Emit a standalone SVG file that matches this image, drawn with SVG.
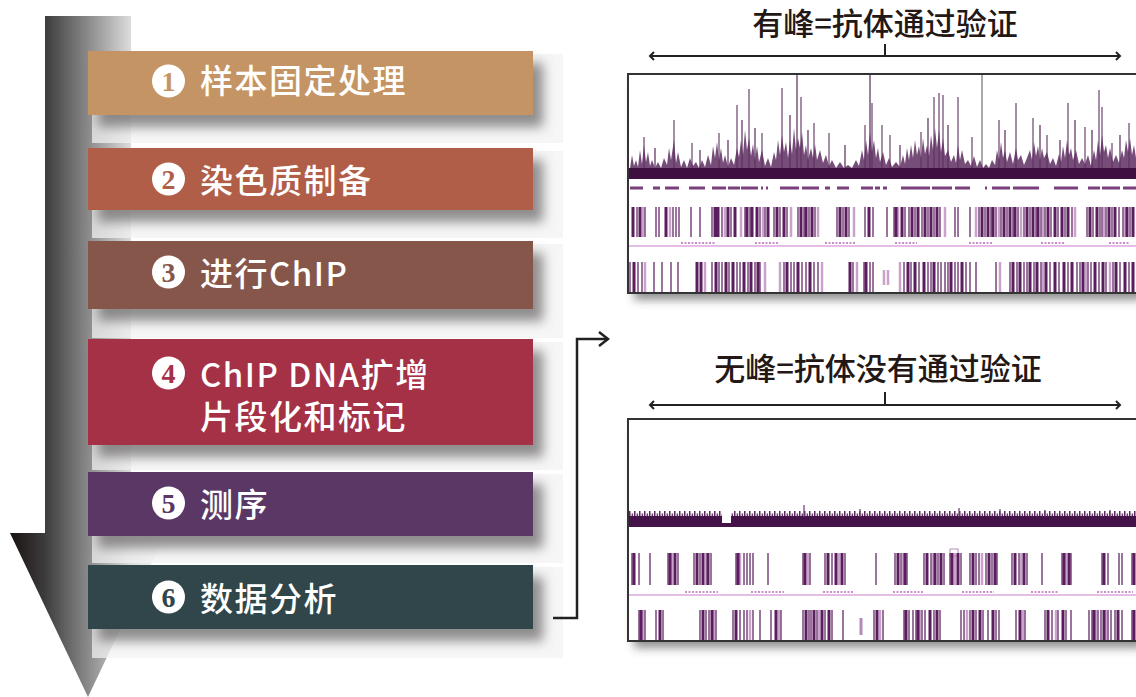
<svg xmlns="http://www.w3.org/2000/svg" width="1136" height="697" viewBox="0 0 1136 697">
<style>
.step{font-family:"Noto Sans CJK SC","Noto Sans",sans-serif;font-size:33px;font-weight:500;fill:#ffffff;letter-spacing:1.5px}
.num{font-family:"Liberation Serif",serif;font-size:28px;font-weight:bold;text-anchor:middle}
.title{font-family:"Noto Sans CJK SC","Noto Sans",sans-serif;font-size:31px;font-weight:500;fill:#231815;text-anchor:middle}
.panel{fill:#f3f3f3;fill-opacity:0.72}
.shadow{fill:#6e6868;fill-opacity:0.75;filter:url(#blur)}
.line{fill:none;stroke:#222;stroke-width:2}
.d{fill:none;stroke:#5a1d5e;stroke-width:3}
.m{fill:none;stroke:#6f3a72;stroke-width:1.4}
.l{fill:none;stroke:#c9a3cb;stroke-width:2.5}
.pink{fill:none;stroke:#dca8dc;stroke-width:1.5}
.lab{fill:none;stroke:#c98fc9;stroke-width:2;stroke-dasharray:2 1.5}
.frame{fill:none;stroke:#333;stroke-width:2}
</style>
<defs>
<linearGradient id="arrowGrad" gradientUnits="userSpaceOnUse" x1="10" y1="0" x2="166" y2="0">
<stop offset="0" stop-color="#1b1212"/>
<stop offset="0.22" stop-color="#3c3b3b"/>
<stop offset="0.5" stop-color="#8a8a8a"/>
<stop offset="0.78" stop-color="#dedede"/>
<stop offset="1" stop-color="#f7f7f7"/>
</linearGradient>
<filter id="blur" x="-10%" y="-30%" width="120%" height="160%"><feGaussianBlur stdDeviation="6"/></filter>
<filter id="blur2" x="-5%" y="-10%" width="110%" height="130%"><feGaussianBlur stdDeviation="5"/></filter>
<marker id="chev" viewBox="-6 -6 8 12" refX="0" refY="0" markerWidth="8" markerHeight="12" markerUnits="userSpaceOnUse" orient="auto-start-reverse">
<path d="M-4,-4 L0,0 L-4,4" fill="none" stroke="#222" stroke-width="2"/>
</marker>
<marker id="chevL" viewBox="-12 -9 14 18" refX="0" refY="0" markerWidth="14" markerHeight="18" markerUnits="userSpaceOnUse" orient="auto">
<path d="M-9,-7 L0,0 L-9,7" fill="none" stroke="#222" stroke-width="2.5"/>
</marker>
<pattern id="spk" width="5" height="6" patternUnits="userSpaceOnUse" x="629" y="511">
<rect x="0" y="0" width="1.5" height="6" fill="#5a2a5c"/>
<rect x="2.6" y="2.5" width="1.5" height="3.5" fill="#6a3a6c"/>
</pattern>
<clipPath id="clipTop"><rect x="629" y="75" width="507" height="217"/></clipPath>
<clipPath id="clipBot"><rect x="629" y="420" width="507" height="220"/></clipPath>
</defs>

<rect x="0" y="0" width="1136" height="697" fill="#ffffff"/>

<g id="flow-arrow">
<path d="M45,16 H131 V533 H166 L88,697 L10,533 H45 Z" fill="url(#arrowGrad)"/>
</g>

<g id="panels">
<rect class="panel" x="92" y="54" width="471" height="89"/>
<rect class="panel" x="92" y="151" width="471" height="87"/>
<rect class="panel" x="92" y="244" width="471" height="94"/>
<rect class="panel" x="92" y="342" width="471" height="128"/>
<rect class="panel" x="92" y="474" width="471" height="89"/>
<rect class="panel" x="92" y="567" width="471" height="91"/>
<rect class="shadow" x="98" y="63" width="445" height="64"/>
<rect class="shadow" x="98" y="160" width="445" height="62"/>
<rect class="shadow" x="98" y="253" width="445" height="68"/>
<rect class="shadow" x="98" y="351" width="445" height="106"/>
<rect class="shadow" x="98" y="484" width="445" height="64"/>
<rect class="shadow" x="98" y="577" width="445" height="64"/>
</g>

<g id="step1">
<rect x="88" y="51" width="445" height="64" fill="#c59464"/>
<circle cx="168.5" cy="81" r="16.5" fill="#ffffff"/>
<text class="num" x="168.5" y="90.5" fill="#c59464">1</text>
<text class="step" x="200" y="93">样本固定处理</text>
</g>
<g id="step2">
<rect x="88" y="148" width="445" height="62" fill="#b05e48"/>
<circle cx="168.5" cy="179" r="16.5" fill="#ffffff"/>
<text class="num" x="168.5" y="188.5" fill="#b05e48">2</text>
<text class="step" x="200" y="193">染色质制备</text>
</g>
<g id="step3">
<rect x="88" y="241" width="445" height="68" fill="#87564b"/>
<circle cx="168.5" cy="272" r="16.5" fill="#ffffff"/>
<text class="num" x="168.5" y="281.5" fill="#87564b">3</text>
<text class="step" x="200" y="286">进行ChIP</text>
</g>
<g id="step4">
<rect x="88" y="339" width="445" height="106" fill="#a53147"/>
<circle cx="168.5" cy="373" r="16.5" fill="#ffffff"/>
<text class="num" x="168.5" y="382.5" fill="#a53147">4</text>
<text class="step" x="200" y="387">ChIP DNA扩增<tspan x="200" y="429">片段化和标记</tspan></text>
</g>
<g id="step5">
<rect x="88" y="472" width="445" height="64" fill="#5b3765"/>
<circle cx="168.5" cy="503" r="16.5" fill="#ffffff"/>
<text class="num" x="168.5" y="512.5" fill="#5b3765">5</text>
<text class="step" x="200" y="517">测序</text>
</g>
<g id="step6">
<rect x="88" y="565" width="445" height="64" fill="#30464a"/>
<circle cx="168.5" cy="597" r="16.5" fill="#ffffff"/>
<text class="num" x="168.5" y="606.5" fill="#30464a">6</text>
<text class="step" x="200" y="611">数据分析</text>
</g>

<g id="connectors">
<path d="M553,618 H577 V339 H608" fill="none" stroke="#222" stroke-width="2.5" marker-end="url(#chevL)"/>
<path class="line" d="M650,56 H1120" marker-start="url(#chev)" marker-end="url(#chev)"/>
<path class="line" d="M885,44 V56"/>
<path class="line" d="M650,405 H1120" marker-start="url(#chev)" marker-end="url(#chev)"/>
<path class="line" d="M885,392 V405"/>
</g>

<g id="label-top">
<text class="title" x="885" y="35">有峰=抗体通过验证</text>
</g>
<g id="label-bottom">
<text class="title" x="878" y="380">无峰=抗体没有通过验证</text>
</g>

<g id="plot-top">
<rect x="634" y="82" width="510" height="218" fill="#4a4a4a" fill-opacity="0.6" filter="url(#blur2)"/>
<rect x="628" y="74" width="512" height="219" fill="#ffffff"/>
<g clip-path="url(#clipTop)">
<path d="M644,170V137M674,170V120M692,170V143M719,170V133M737,170V105M749,170V89M762,170V133M782,170V88M801,170V97M814,170V123M829,170V133M865,170V125M872,170V103M882,170V125M890,170V135M921,170V132M934,170V97M939,170V93M943,170V95M958,170V97M972,170V137M999,170V120M1016,170V103M1033,170V118M1047,170V135M1068,170V103M1085,170V127M1099,170V90M1102,170V107M1112,170V143M1129,170V123" fill="none" stroke="#8a6a8c" stroke-width="1.5"/>
<path d="M797,170V75M870,170V75" fill="none" stroke="#9a7e9c" stroke-width="2"/>
<path d="M982,170V75" fill="none" stroke="#555" stroke-width="1"/>
<path d="M655,170V148M700,170V150M728,170V140M742,170V120M755,170V128M790,170V115M808,170V130M845,170V145M900,170V145M928,170V118M948,170V125M1005,170V130M1040,170V125M1060,170V140M1075,170V120M1092,170V130M1120,170V135" fill="none" stroke="#5a2a5c" stroke-width="1.2"/>
<path d="M630,179 L630,168 L632,155 L634,166 L636,160 L638,167 L640,150 L642,164 L644,145 L646,162 L648,152 L650,166 L652,160 L655,168 L658,162 L661,168 L664,158 L667,165 L669,148 L671,160 L674,140 L676,163 L678,152 L681,167 L684,160 L687,168 L690,158 L693,166 L696,162 L699,168 L702,160 L705,167 L708,155 L711,165 L713,146 L715,158 L717,142 L719,160 L721,148 L723,163 L725,155 L728,167 L731,158 L734,165 L737,148 L739,157 L741,140 L743,155 L745,130 L747,150 L749,138 L751,156 L753,144 L755,160 L757,146 L759,162 L762,150 L765,166 L768,158 L771,167 L774,152 L776,160 L778,140 L780,155 L782,135 L784,152 L786,142 L788,158 L790,140 L792,154 L794,128 L796,150 L798,138 L800,148 L802,132 L804,155 L806,145 L808,160 L811,148 L813,158 L815,144 L817,160 L820,150 L823,163 L826,155 L829,166 L832,160 L836,168 L840,162 L844,168 L848,165 L852,168 L856,160 L859,166 L862,150 L864,160 L866,140 L868,155 L870,132 L872,152 L874,140 L876,158 L878,148 L880,162 L883,152 L886,165 L889,158 L892,167 L896,162 L900,167 L903,155 L905,164 L907,148 L909,160 L911,145 L913,158 L915,140 L917,155 L919,146 L921,158 L923,138 L925,154 L927,145 L929,156 L931,135 L933,150 L935,128 L937,148 L939,130 L941,152 L943,138 L945,156 L948,150 L951,162 L954,155 L956,163 L958,145 L960,160 L962,150 L965,164 L968,160 L971,166 L974,156 L977,167 L980,160 L983,168 L986,164 L989,168 L992,160 L995,165 L997,150 L999,160 L1001,142 L1003,158 L1005,150 L1007,162 L1010,152 L1013,164 L1016,148 L1018,160 L1021,155 L1024,165 L1027,158 L1030,150 L1032,160 L1034,142 L1036,156 L1038,146 L1040,160 L1042,148 L1044,158 L1047,152 L1050,164 L1053,158 L1056,166 L1059,154 L1061,162 L1063,146 L1065,158 L1067,140 L1069,155 L1071,148 L1073,160 L1076,150 L1079,164 L1082,158 L1085,164 L1088,155 L1091,166 L1094,150 L1096,160 L1098,140 L1100,155 L1102,135 L1104,152 L1106,145 L1108,158 L1110,148 L1113,162 L1116,155 L1119,163 L1122,150 L1124,158 L1126,140 L1128,152 L1130,138 L1132,155 L1134,145 L1136,158 L1136,179 Z" fill="#5e2e62" fill-opacity="0.85"/>
<rect x="629" y="168" width="507" height="11" fill="#3f0f42"/>
<path d="M630,188H643M653,188H660M665,188H679M689,188H705M712,188H726M728,188H740M741,188H758M761,188H763M766,188H768M780,188H799M802,188H819M825,188H830M837,188H849M861,188H873M875,188H880M883,188H887M901,188H930M932,188H952M955,188H970M985,188H987M992,188H1010M1013,188H1039M1054,188H1078M1088,188H1100M1102,188H1120M1123,188H1136" fill="none" stroke="#7b3f7e" stroke-width="3"/>
<path class="l" d="M643 207v30M670 207v30M725 207v30M741 207v30M763 207v30M791 207v30M818 207v30M854 207v30M898 207v30M945 207v30M976 207v30M999 207v30M1021 207v30M1043 207v30M1075 207v30M1104 207v30M1125 207v30"/>
<path class="m" d="M637 207v30M645 207v30M656 207v30M659 207v30M673 207v30M676 207v30M679 207v30M691 207v30M700 207v30M712 207v30M722 207v30M731 207v30M745 207v30M750 207v30M760 207v30M765 207v30M774 207v30M780 207v30M787 207v30M798 207v30M804 207v30M809 207v30M815 207v30M837 207v30M843 207v30M849 207v30M865 207v30M873 207v30M887 207v30M894 207v30M905 207v30M909 207v30M915 207v30M922 207v30M928 207v30M934 207v30M940 207v30M955 207v30M958 207v30M970 207v30M979 207v30M985 207v30M991 207v30M996 207v30M1001 207v30M1007 207v30M1013 207v30M1018 207v30M1024 207v30M1030 207v30M1036 207v30M1041 207v30M1045 207v30M1051 207v30M1058 207v30M1065 207v30M1072 207v30M1087 207v30M1093 207v30M1100 207v30M1102 207v30M1106 207v30M1112 207v30M1119 207v30M1123 207v30M1130 207v30"/>
<path class="d" d="M633 207v30M640 207v30M666 207v30M715 207v30M718 207v30M728 207v30M735 207v30M747 207v30M752 207v30M757 207v30M768 207v30M777 207v30M784 207v30M801 207v30M806 207v30M812 207v30M840 207v30M846 207v30M869 207v30M896 207v30M902 207v30M912 207v30M918 207v30M925 207v30M931 207v30M937 207v30M982 207v30M988 207v30M993 207v30M1004 207v30M1010 207v30M1015 207v30M1027 207v30M1033 207v30M1038 207v30M1048 207v30M1055 207v30M1062 207v30M1068 207v30M1090 207v30M1097 207v30M1109 207v30M1115 207v30M1127 207v30M1133 207v30"/>
<path class="pink" d="M629,246H1136"/>
<path class="lab" d="M681,243H715M755,243H779M825,243H856M895,243H917M969,243H993M1041,243H1065M1109,243H1130"/>
<path class="l" d="M645 262v31M705 262v31M765 262v31M780 262v31M822 262v31M857 262v31M884 270v15M888 270v15M900 262v31M1000 262v31M1043 262v31M1086 262v31M1110 262v31"/>
<path class="m" d="M630 262v31M638 262v31M642 262v31M654 262v31M662 262v31M671 262v31M678 262v31M712 262v31M719 262v31M722 262v31M729 262v31M737 262v31M740 262v31M748 262v31M755 262v31M760 262v31M784 262v31M791 262v31M794 262v31M802 262v31M806 262v31M814 262v31M818 262v31M853 262v31M864 262v31M870 262v31M873 262v31M904 262v31M911 262v31M919 262v31M928 262v31M931 262v31M938 262v31M941 262v31M945 262v31M948 262v31M955 262v31M958 262v31M966 262v31M970 262v31M976 262v31M996 262v31M1010 262v31M1017 262v31M1024 262v31M1027 262v31M1034 262v31M1041 262v31M1050 262v31M1059 262v31M1068 262v31M1077 262v31M1080 262v31M1088 262v31M1091 262v31M1099 262v31M1106 262v31M1113 262v31M1120 262v31M1129 262v31"/>
<path class="d" d="M634 262v31M697 262v31M701 262v31M716 262v31M726 262v31M733 262v31M744 262v31M751 262v31M758 262v31M787 262v31M798 262v31M810 262v31M850 262v31M866 262v31M908 262v31M915 262v31M924 262v31M934 262v31M951 262v31M962 262v31M1013 262v31M1020 262v31M1030 262v31M1037 262v31M1046 262v31M1055 262v31M1064 262v31M1072 262v31M1083 262v31M1095 262v31M1103 262v31M1116 262v31M1125 262v31M1133 262v31"/>
</g>
<rect class="frame" x="628" y="74" width="512" height="219"/>
</g>

<g id="plot-bottom">
<rect x="634" y="427" width="510" height="221" fill="#4a4a4a" fill-opacity="0.6" filter="url(#blur2)"/>
<rect x="628" y="419" width="512" height="222" fill="#ffffff"/>
<g clip-path="url(#clipBot)">
<rect x="629" y="511" width="507" height="6" fill="url(#spk)"/>
<rect x="629" y="516" width="507" height="11" fill="#45124a"/>
<rect x="722" y="510" width="9" height="13" fill="#ffffff"/>
<path d="M804,517V505M959,517V508M1000,517V509M1045,517V510M860,517V509M1110,517V510" fill="none" stroke="#6a3a6c" stroke-width="1.2"/>
<path class="l" d="M672 553v32M706 553v32M740 553v32M808 553v32M839 553v32M903 553v32M933 553v32M955 553v32M982 553v32M1021 553v32M1066 553v32"/>
<rect x="950" y="549" width="8" height="7" fill="none" stroke="#b58ab8" stroke-width="1"/>
<path class="m" d="M632 553v32M639 553v32M650 553v32M668 553v32M678 553v32M694 553v32M700 553v32M711 553v32M736 553v32M744 553v32M747 553v32M750 553v32M753 553v32M768 553v32M803 553v32M810 553v32M825 553v32M832 553v32M845 553v32M876 553v32M895 553v32M901 553v32M907 553v32M924 553v32M931 553v32M938 553v32M944 553v32M950 553v32M961 553v32M970 553v32M976 553v32M979 553v32M986 553v32M992 553v32M997 553v32M1012 553v32M1019 553v32M1027 553v32M1042 553v32M1062 553v32M1071 553v32M1102 553v32M1108 553v32M1119 553v32M1122 553v32M1132 553v32"/>
<path class="d" d="M634 553v32M670 553v32M675 553v32M697 553v32M703 553v32M708 553v32M738 553v32M805 553v32M828 553v32M836 553v32M842 553v32M898 553v32M905 553v32M927 553v32M935 553v32M941 553v32M952 553v32M958 553v32M973 553v32M989 553v32M995 553v32M1015 553v32M1024 553v32M1064 553v32M1069 553v32M1104 553v32M1134 553v32"/>
<path class="pink" d="M629,595H1136"/>
<path class="lab" d="M685,592H718M751,592H784M823,592H854M893,592H924M962,592H994M1031,592H1058M1097,592H1133"/>
<path class="l" d="M643 610v31M714 610v31M750 610v31M779 610v31M819 610v31M880 610v31M920 610v31M967 610v31M1023 610v31M1056 610v31M1096 610v31M1106 610v31"/>
<path d="M861,618V635" fill="none" stroke="#b58ab8" stroke-width="3"/>
<path class="m" d="M639 610v31M645 610v31M656 610v31M663 610v31M700 610v31M706 610v31M709 610v31M716 610v31M733 610v31M740 610v31M744 610v31M747 610v31M753 610v31M760 610v31M771 610v31M781 610v31M803 610v31M809 610v31M811 610v31M817 610v31M825 610v31M832 610v31M843 610v31M874 610v31M883 610v31M904 610v31M909 610v31M913 610v31M916 610v31M922 610v31M925 610v31M934 610v31M940 610v31M961 610v31M964 610v31M970 610v31M976 610v31M983 610v31M988 610v31M996 610v31M999 610v31M1016 610v31M1025 610v31M1045 610v31M1052 610v31M1058 610v31M1066 610v31M1071 610v31M1089 610v31M1092 610v31M1098 610v31M1101 610v31M1108 610v31M1111 610v31M1115 610v31M1122 610v31M1132 610v31"/>
<path class="d" d="M641 610v31M660 610v31M703 610v31M712 610v31M736 610v31M776 610v31M806 610v31M814 610v31M822 610v31M829 610v31M877 610v31M906 610v31M918 610v31M930 610v31M937 610v31M973 610v31M980 610v31M993 610v31M1020 610v31M1048 610v31M1063 610v31M1094 610v31M1104 610v31M1118 610v31M1134 610v31"/>
</g>
<rect class="frame" x="628" y="419" width="512" height="222"/>
</g>
</svg>
